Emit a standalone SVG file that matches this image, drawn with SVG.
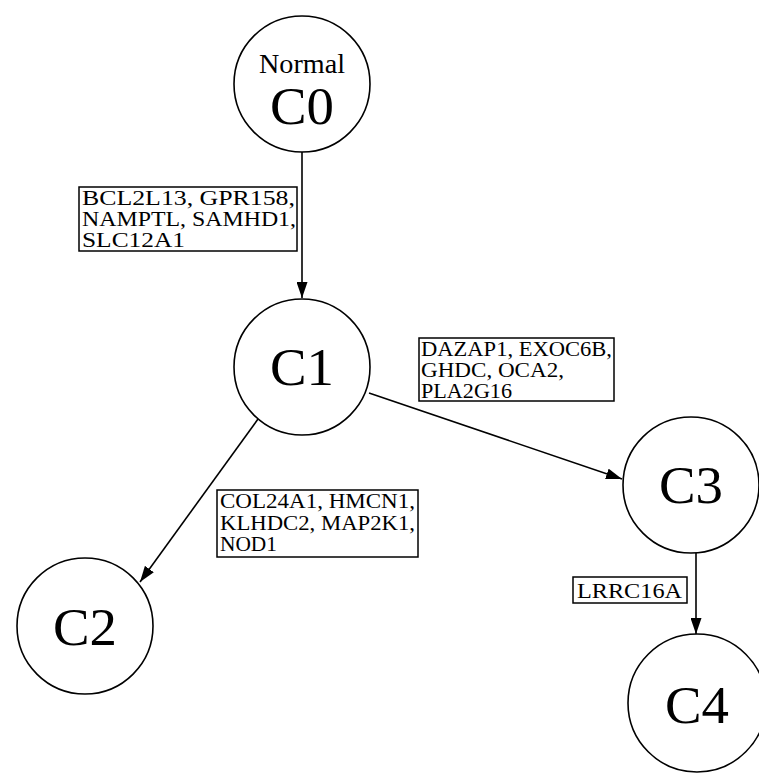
<svg xmlns="http://www.w3.org/2000/svg" width="759" height="773" viewBox="0 0 759 773">
<defs>
<style>
.node circle{fill:#fff;stroke:#000;stroke-width:1.6}
.edges line{stroke:#000;stroke-width:1.6}
.lab rect{fill:#fff;stroke:#000;stroke-width:1.5}
text{font-family:"Liberation Serif","DejaVu Serif",serif;fill:#000}
.big{font-size:52px;text-anchor:middle}
.mid{font-size:27px;text-anchor:middle}
.small{font-size:20px}
</style>
<marker id="ah" markerUnits="userSpaceOnUse" viewBox="0 0 16 11" refX="16" refY="5.5" markerWidth="16" markerHeight="11" orient="auto">
<path d="M0,0 L16,5.5 L0,11 z" fill="#000"/>
</marker>
</defs>
<rect width="759" height="773" fill="#fff"/>
<g id="edges" class="edges">
<line x1="302" y1="152" x2="302" y2="298" marker-end="url(#ah)"/>
<line x1="258" y1="419" x2="140" y2="582" marker-end="url(#ah)"/>
<line x1="369" y1="393" x2="622" y2="479" marker-end="url(#ah)"/>
<line x1="696" y1="553" x2="696" y2="634" marker-end="url(#ah)"/>
</g>
<g id="C0" class="node">
<circle cx="302" cy="84" r="68"/>
<text class="mid" x="302" y="73" textLength="86" lengthAdjust="spacingAndGlyphs">Normal</text>
<text class="big" x="302" y="124" font-size="50" textLength="64" lengthAdjust="spacingAndGlyphs">C0</text>
</g>
<g id="C1" class="node">
<circle cx="302" cy="367" r="68"/>
<text class="big" x="302" y="385" textLength="64" lengthAdjust="spacingAndGlyphs">C1</text>
</g>
<g id="C2" class="node">
<circle cx="85" cy="626" r="68"/>
<text class="big" x="85" y="645" textLength="64" lengthAdjust="spacingAndGlyphs">C2</text>
</g>
<g id="C3" class="node">
<circle cx="691" cy="485" r="68"/>
<text class="big" x="691" y="503" textLength="64" lengthAdjust="spacingAndGlyphs">C3</text>
</g>
<g id="C4" class="node">
<circle cx="697" cy="703" r="69"/>
<text class="big" x="697" y="723" textLength="64" lengthAdjust="spacingAndGlyphs">C4</text>
</g>
<g id="label-C0-C1" class="lab">
<rect x="79" y="187" width="218" height="64"/>
<text class="small" x="82" y="205" textLength="213" lengthAdjust="spacingAndGlyphs">BCL2L13, GPR158,</text>
<text class="small" x="82" y="226" textLength="214" lengthAdjust="spacingAndGlyphs">NAMPTL, SAMHD1,</text>
<text class="small" x="82" y="247" textLength="103" lengthAdjust="spacingAndGlyphs">SLC12A1</text>
</g>
<g id="label-C1-C3" class="lab">
<rect x="419" y="338" width="195" height="63"/>
<text class="small" x="421" y="356" textLength="191" lengthAdjust="spacingAndGlyphs">DAZAP1, EXOC6B,</text>
<text class="small" x="421" y="377" textLength="143" lengthAdjust="spacingAndGlyphs">GHDC, OCA2,</text>
<text class="small" x="421" y="398" textLength="91" lengthAdjust="spacingAndGlyphs">PLA2G16</text>
</g>
<g id="label-C1-C2" class="lab">
<rect x="217" y="490" width="201" height="67"/>
<text class="small" x="220" y="508" textLength="195" lengthAdjust="spacingAndGlyphs">COL24A1, HMCN1,</text>
<text class="small" x="220" y="530" textLength="195" lengthAdjust="spacingAndGlyphs">KLHDC2, MAP2K1,</text>
<text class="small" x="220" y="551" textLength="57" lengthAdjust="spacingAndGlyphs">NOD1</text>
</g>
<g id="label-C3-C4" class="lab">
<rect x="573" y="577" width="114" height="26"/>
<text class="small" x="577" y="598" textLength="105" lengthAdjust="spacingAndGlyphs">LRRC16A</text>
</g>
</svg>
